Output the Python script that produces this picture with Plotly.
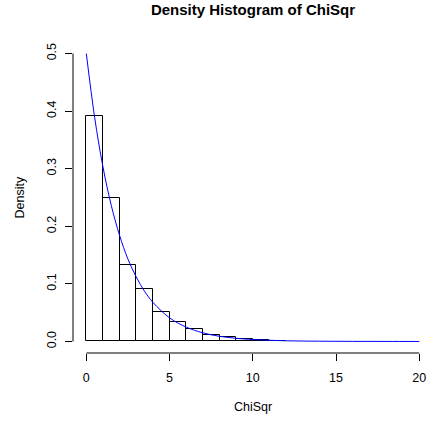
import plotly.graph_objects as go

# Histogram bins (width 1) and their densities
bin_left = list(range(0, 12))
density = [0.392, 0.249, 0.132, 0.092, 0.052, 0.034, 0.0215, 0.012,
           0.007, 0.004, 0.002, 0.001]

# Theoretical chi-square (df = 2) density curve
curve_x = [0, 0.5, 1, 1.5, 2, 2.5, 3, 3.5, 4, 5, 6, 7, 8, 9, 10, 12, 14, 16, 18, 20]
curve_y = [0.500, 0.389, 0.303, 0.236, 0.184, 0.143, 0.112, 0.087, 0.068,
           0.041, 0.025, 0.015, 0.009, 0.0056, 0.0034, 0.0012, 0.0005,
           0.0002, 0.0001, 0.00002]

x_ticks = [0, 5, 10, 15, 20]
y_ticks = [0.0, 0.1, 0.2, 0.3, 0.4, 0.5]
y_tick_text = ["0.0", "0.1", "0.2", "0.3", "0.4", "0.5"]

W, H = 427, 421
ML, MT, MB, MR = 73, 42, 68, 0
FONT = "Liberation Sans, Arial, Helvetica, sans-serif"

fig = go.Figure()
fig.add_trace(go.Bar(
    x=[b + 0.5 for b in bin_left], y=density, width=1,
    marker=dict(color="rgba(0,0,0,0)", line=dict(color="black", width=1)),
    showlegend=False, hoverinfo="skip",
))
fig.add_trace(go.Scatter(
    x=curve_x, y=curve_y, mode="lines",
    line=dict(color="blue", width=1, shape="spline", smoothing=1.0),
    showlegend=False, cliponaxis=True,
))

plot_w = W - ML - MR
plot_h = H - MT - MB
px_per_unit = 16.65
x_lo = -0.8
x_hi = x_lo + plot_w / px_per_unit

# R-style axis lines spanning only the tick range
fig.add_shape(type="line", xref="x", yref="paper",
              x0=x_ticks[0], x1=x_ticks[-1], y0=0, y1=0,
              line=dict(color="black", width=1))
fig.add_shape(type="line", xref="paper", yref="y",
              x0=0, x1=0, y0=y_ticks[0], y1=y_ticks[-1],
              line=dict(color="black", width=1))

fig.update_layout(
    width=W, height=H,
    margin=dict(l=ML, r=MR, t=MT, b=MB),
    paper_bgcolor="white", plot_bgcolor="white",
    font=dict(family=FONT, size=12, color="black"),
    bargap=0,
    title=dict(text="<b>Density Histogram of ChiSqr</b>",
               xref="container", x=253 / W, xanchor="center",
               yref="container", y=1 - 10 / H, yanchor="middle",
               font=dict(size=15, family=FONT, color="black")),
    xaxis=dict(range=[x_lo, x_hi], tickvals=x_ticks,
               ticks="outside", ticklen=7, tickcolor="black", tickwidth=1,
               showline=False, showgrid=False, zeroline=False,
               ticklabelstandoff=6, tickfont=dict(size=12.5)),
    yaxis=dict(range=[-0.02, 0.52], tickvals=y_ticks, ticktext=y_tick_text,
               ticks="outside", ticklen=7, tickcolor="black", tickwidth=1,
               tickangle=-90,
               showline=False, showgrid=False, zeroline=False,
               ticklabelstandoff=4, tickfont=dict(size=12.5)),
    annotations=[
        dict(text="ChiSqr", xref="paper", yref="paper",
             x=(253 - ML) / plot_w, y=(353 - 407) / plot_h,
             xanchor="center", yanchor="middle", showarrow=False,
             font=dict(size=12.5, family=FONT)),
        dict(text="Density", xref="paper", yref="paper",
             x=(19 - ML) / plot_w, y=0.5, textangle=-90,
             xanchor="center", yanchor="middle", showarrow=False,
             font=dict(size=12.5, family=FONT)),
    ],
)

fig.write_html("out.html")
